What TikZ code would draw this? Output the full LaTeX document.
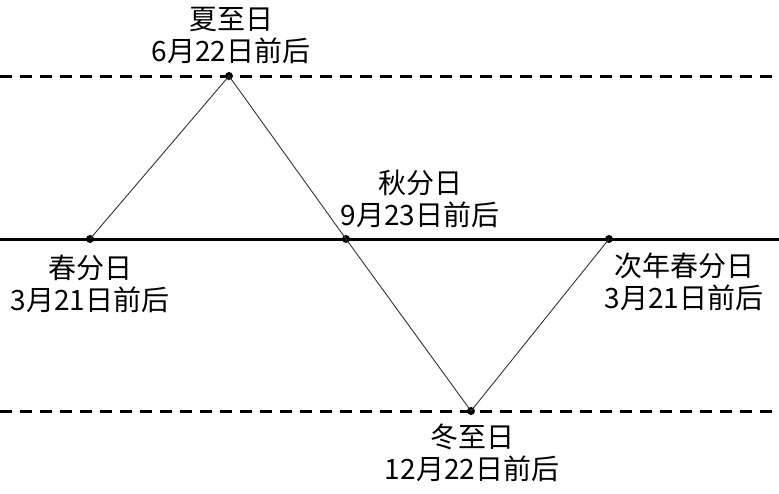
\documentclass[tikz,border=0pt]{standalone}
\usepackage{fontspec}
\setmainfont{Noto Sans CJK SC}
\usetikzlibrary{calc}

\begin{document}
\begin{tikzpicture}[x=1pt, y=-1pt]
    % Styles for lines, points and labels
    \tikzstyle{axis} = [line width=3pt]
    \tikzstyle{limit} = [line width=3pt, dash pattern=on 12pt off 8pt]
    \tikzstyle{path} = [line width=0.9pt, draw=black!80]
    \tikzstyle{dot} = [circle, fill=black, inner sep=0pt, minimum size=8pt]
    \tikzstyle{lbl} = [align=center, font=\fontsize{28}{32}\selectfont, inner sep=0pt]

    \useasboundingbox (0,0) rectangle (779,493);

  % Edge coordinates of the three lines
    \coordinate (topL) at (0,76);
    \coordinate (topR) at (779,76);
    \coordinate (midL) at (0,239);
    \coordinate (midR) at (779,239);
    \coordinate (botL) at (0,411);
    \coordinate (botR) at (779,411);

  % Points with explicit coordinates
    \node[dot] (spring) at (90,239) {};
    \node[dot] (summer) at (229,76) {};
    \node[dot] (autumn) at (346,239) {};
    \node[dot] (winter) at (471,411) {};
    \node[dot] (nextspring) at (609,239) {};

  % Lines
    \draw[limit] (topL) -- (topR);
    \draw[axis] (midL) -- (midR);
    \draw[limit] (botL) -- (botR);
    \draw[path] (spring.center) -- (summer.center) -- (autumn.center) -- (winter.center) -- (nextspring.center);

  % Labels
    \node[lbl] (springtxt) at (90,284) {春分日\\3月21日前后};
    \node[lbl] (summertxt) at (231,36) {夏至日\\6月22日前后};
    \node[lbl] (autumntxt) at (420,199) {秋分日\\9月23日前后};
    \node[lbl] (wintertxt) at (472,453) {冬至日\\12月22日前后};
    \node[lbl] (nextspringtxt) at (684,282) {次年春分日\\3月21日前后};

\end{tikzpicture}
\end{document}
